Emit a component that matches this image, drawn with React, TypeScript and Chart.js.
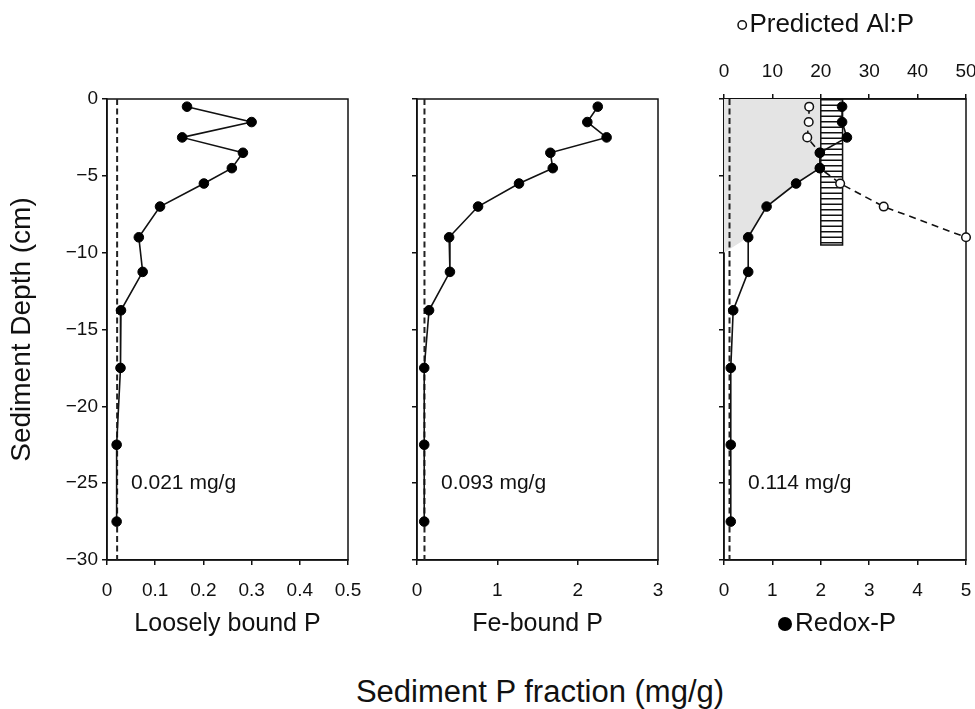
import React, { useEffect, useRef } from 'react';
import { Chart, registerables } from 'chart.js';

Chart.register(...registerables);

const FONT = '"Liberation Sans", Arial, Helvetica, sans-serif';
const INK = '#111111';

// ---------- data ----------
const depthCm = [-0.5, -1.5, -2.5, -3.5, -4.5, -5.5, -7, -9, -11.25, -13.75, -17.5, -22.5, -27.5];
const looselyBoundP = [0.166, 0.3, 0.156, 0.282, 0.259, 0.201, 0.11, 0.066, 0.074, 0.029, 0.028, 0.02, 0.02];
const feBoundP = [2.25, 2.12, 2.36, 1.66, 1.69, 1.27, 0.76, 0.4, 0.41, 0.15, 0.09, 0.09, 0.09];
const redoxP = [2.44, 2.44, 2.54, 1.98, 1.98, 1.49, 0.88, 0.5, 0.5, 0.19, 0.14, 0.14, 0.14];

const alPDepthCm = [-0.5, -1.5, -2.5, -3.5, -4.5, -5.5, -7, -9];
const predictedAlP = [17.6, 17.5, 17.2, 19.8, 19.8, 24.0, 33.0, 50.0];

// shaded zone (Al:P scale / depth)
const shadeAlP = [0, 20, 20, 19.8, 14.9, 8.8, 5.0, 0];
const shadeDepthCm = [0, 0, -3.5, -4.5, -5.5, -7, -9, -10];

// hatched Al:P threshold band
const bandAlP = [20, 24.5];
const bandDepthCm = [0, -9.5];

const meanValues = [0.021, 0.093, 0.114];
const meanLabels = ['0.021 mg/g', '0.093 mg/g', '0.114 mg/g'];
const panelTitles = ['Loosely bound P', 'Fe-bound P', ''];
const panelSeries = [looselyBoundP, feBoundP, redoxP];
const xMaxes = [0.5, 3, 5];
const xSteps = [0.1, 1, 1];
const depthRange = [-30, 0];
const depthStep = 5;
const alPRange = [0, 50];
const alPStep = 10;
const annotationDepth = -25;

// ---------- layout ----------
const PANELS = [
  { left: 0, width: 380, yWidth: 107, padRight: 32 },
  { left: 385, width: 290, yWidth: 32, padRight: 17 },
  { left: 690, width: 285, yWidth: 34, padRight: 9 },
];
const CANVAS_H = 660;
const PLOT_TOP = 99;
const X_AXIS_H = 100;
const TICK_SIZE = 19;

const pts = (xs: number[], ys: number[]) => xs.map((x, i) => ({ x, y: ys[i] }));

function makeHatch(): any {
  const c = document.createElement('canvas');
  c.width = 6;
  c.height = 11;
  const g = c.getContext('2d');
  if (!g) return '#fff';
  g.fillStyle = '#ffffff';
  g.fillRect(0, 0, 6, 11);
  g.fillStyle = INK;
  g.fillRect(0, 0, 6, 1.5);
  g.fillRect(0, 5.5, 6, 1.5);
  return g.createPattern(c, 'repeat') || '#fff';
}

const panelPlugin = {
  id: 'panelDecor',
  beforeDatasetsDraw(chart: any) {
    const { ctx, chartArea: a } = chart;
    ctx.save();
    ctx.strokeStyle = INK;
    ctx.lineWidth = 1.5;
    ctx.strokeRect(a.left, a.top, a.right - a.left, a.bottom - a.top);
    ctx.restore();
  },
  afterDatasetsDraw(chart: any, _args: any, opts: any) {
    const { ctx, chartArea: a } = chart;
    ctx.save();
    if (opts.label) {
      ctx.font = `21px ${FONT}`;
      ctx.fillStyle = INK;
      ctx.textAlign = 'left';
      ctx.textBaseline = 'middle';
      ctx.fillText(opts.label, a.left + 24, chart.scales.y.getPixelForValue(annotationDepth));
    }
    if (opts.legends) {
      for (const item of opts.legends) {
        ctx.font = `26px ${FONT}`;
        const r = item.filled ? 7 : 4.2;
        const gap = 3;
        const x0 = a.left + item.dx;
        ctx.beginPath();
        ctx.arc(x0 + r, item.y, r, 0, Math.PI * 2);
        if (item.filled) {
          ctx.fillStyle = '#000';
          ctx.fill();
        } else {
          ctx.fillStyle = '#fff';
          ctx.fill();
          ctx.lineWidth = 1.5;
          ctx.strokeStyle = INK;
          ctx.stroke();
        }
        ctx.fillStyle = INK;
        ctx.textAlign = 'left';
        ctx.textBaseline = 'middle';
        ctx.fillText(item.text, x0 + 2 * r + gap, item.y);
      }
    }
    ctx.restore();
  },
};

function axisCommon() {
  return {
    grid: {
      display: true,
      drawOnChartArea: false,
      drawTicks: true,
      tickLength: 5,
      color: INK,
      tickColor: INK,
      lineWidth: 1.5,
      tickWidth: 1.5,
    },
    border: { display: true, color: INK, width: 1.5 },
  };
}

function buildConfig(idx: number, hatch: any): any {
  const geo = PANELS[idx];
  const isLast = idx === 2;
  const datasets: any[] = [];

  datasets.push({
    label: 'series',
    data: pts(panelSeries[idx], depthCm),
    showLine: true,
    borderColor: INK,
    borderWidth: 1.6,
    pointRadius: 4.8,
    pointBackgroundColor: '#000',
    pointBorderColor: '#000',
    pointBorderWidth: 1,
    tension: 0,
    order: 0,
    clip: false,
  });
  datasets.push({
    label: 'mean',
    data: [
      { x: meanValues[idx], y: depthRange[1] },
      { x: meanValues[idx], y: depthRange[0] },
    ],
    showLine: true,
    borderColor: '#222',
    borderWidth: 2,
    borderDash: [6, 3.5],
    pointRadius: 0,
    order: 3,
  });

  if (isLast) {
    datasets.push({
      label: 'predicted',
      xAxisID: 'x2',
      data: pts(predictedAlP, alPDepthCm),
      showLine: true,
      borderColor: INK,
      borderWidth: 1.6,
      borderDash: [7, 5],
      pointRadius: 4.3,
      pointBackgroundColor: '#fff',
      pointBorderColor: INK,
      pointBorderWidth: 1.5,
      order: 1,
      clip: false,
    });
    datasets.push({
      label: 'band',
      xAxisID: 'x2',
      data: [
        { x: bandAlP[0], y: bandDepthCm[0] },
        { x: bandAlP[1], y: bandDepthCm[0] },
        { x: bandAlP[1], y: bandDepthCm[1] },
        { x: bandAlP[0], y: bandDepthCm[1] },
        { x: bandAlP[0], y: bandDepthCm[0] },
      ],
      showLine: true,
      borderColor: INK,
      borderWidth: 1.5,
      backgroundColor: hatch,
      fill: 'shape',
      pointRadius: 0,
      order: 4,
    });
    datasets.push({
      label: 'shade',
      xAxisID: 'x2',
      data: pts(shadeAlP, shadeDepthCm),
      showLine: true,
      borderWidth: 0,
      borderColor: 'rgba(0,0,0,0)',
      backgroundColor: '#e4e4e4',
      fill: 'shape',
      pointRadius: 0,
      order: 5,
    });
  }

  const scales: any = {
    y: {
      type: 'linear',
      min: depthRange[0],
      max: depthRange[1],
      ...axisCommon(),
      ticks: {
        display: idx === 0,
        stepSize: depthStep,
        color: INK,
        font: { family: FONT, size: TICK_SIZE },
        padding: 4,
        callback: (v: any) => (Number(v) < 0 ? '\u2212' + Math.abs(Number(v)) : String(v)),
      },
      title:
        idx === 0
          ? {
              display: true,
              text: 'Sediment Depth (cm)',
              color: INK,
              font: { family: FONT, size: 28 },
              padding: { top: 5, bottom: 0 },
            }
          : { display: false },
      afterFit: (s: any) => {
        s.width = geo.yWidth;
        s.paddingTop = 0;
        s.paddingBottom = 0;
      },
    },
    x: {
      type: 'linear',
      position: 'bottom',
      min: 0,
      max: xMaxes[idx],
      ...axisCommon(),
      ticks: {
        stepSize: xSteps[idx],
        color: INK,
        font: { family: FONT, size: TICK_SIZE },
        padding: 14,
        autoSkip: false,
        maxRotation: 0,
      },
      title: panelTitles[idx]
        ? {
            display: true,
            text: panelTitles[idx],
            color: INK,
            font: { family: FONT, size: 25 },
            padding: { top: 0, bottom: 21 },
          }
        : { display: false },
      afterFit: (s: any) => {
        s.height = X_AXIS_H;
        s.paddingLeft = 0;
        s.paddingRight = 0;
      },
    },
  };
  if (isLast) {
    scales.x2 = {
      type: 'linear',
      position: 'top',
      min: alPRange[0],
      max: alPRange[1],
      ...axisCommon(),
      ticks: {
        stepSize: alPStep,
        color: INK,
        font: { family: FONT, size: TICK_SIZE },
        padding: 11,
        autoSkip: false,
        maxRotation: 0,
      },
      afterFit: (s: any) => {
        s.height = PLOT_TOP;
        s.paddingLeft = 0;
        s.paddingRight = 0;
      },
    };
  }

  return {
    type: 'scatter',
    data: { datasets },
    options: {
      responsive: false,
      animation: false,
      devicePixelRatio: 1,
      events: [],
      layout: {
        padding: { left: 0, right: geo.padRight, top: isLast ? 0 : PLOT_TOP, bottom: 0 },
      },
      plugins: {
        legend: { display: false },
        tooltip: { enabled: false },
        panelDecor: {
          label: meanLabels[idx],
          legends: isLast
            ? [
                { text: 'Predicted Al:P', filled: false, y: 25, dx: 14 },
                { text: 'Redox-P', filled: true, y: 624, dx: 54 },
              ]
            : null,
        },
      },
      scales,
    },
    plugins: [panelPlugin],
  };
}

export default function App() {
  const r0 = useRef<HTMLCanvasElement | null>(null);
  const r1 = useRef<HTMLCanvasElement | null>(null);
  const r2 = useRef<HTMLCanvasElement | null>(null);

  useEffect(() => {
    const hatch = makeHatch();
    const refs = [r0, r1, r2];
    const charts = refs.map((r, i) => new Chart(r.current as HTMLCanvasElement, buildConfig(i, hatch)));
    return () => charts.forEach((c) => c.destroy());
  }, []);

  const refs = [r0, r1, r2];
  return (
    <div
      style={{
        position: 'absolute',
        left: 0,
        top: 0,
        width: 975,
        height: 709,
        overflow: 'hidden',
        background: '#fff',
        fontFamily: FONT,
      }}
    >
      {PANELS.map((p, i) => (
        <canvas
          key={i}
          ref={refs[i]}
          width={p.width}
          height={CANVAS_H}
          style={{ position: 'absolute', left: p.left, top: 0, width: p.width, height: CANVAS_H }}
        />
      ))}
      <div
        style={{
          position: 'absolute',
          left: 540,
          top: 677,
          transform: 'translateX(-50%)',
          whiteSpace: 'nowrap',
          fontSize: 31,
          lineHeight: '30px',
          color: INK,
        }}
      >
        Sediment P fraction (mg/g)
      </div>
    </div>
  );
}
